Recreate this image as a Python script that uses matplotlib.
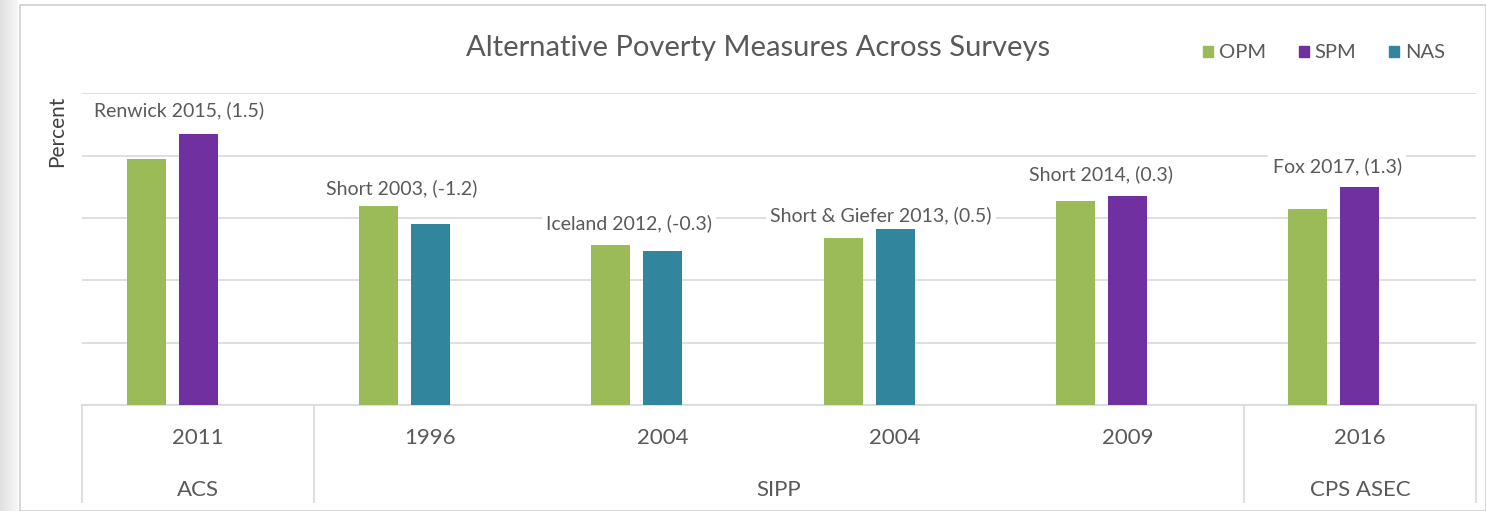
import numpy as np
import matplotlib
matplotlib.use("Agg")
import matplotlib.pyplot as plt
from matplotlib.patches import Rectangle, Patch
import matplotlib.transforms as mtransforms

plt.rcParams['font.family'] = ['Lato', 'DejaVu Sans']

# data
years = ['2011', '1996', '2004', '2004', '2009', '2016']
surveys = ['ACS', 'SIPP', 'CPS ASEC']
survey_span = [(0, 0), (1, 4), (5, 5)]
opm = [15.8, 12.8, 10.3, 10.7, 13.1, 12.6]
alt = [17.4, 11.6, 9.9, 11.3, 13.4, 14.0]
alt_type = ['SPM', 'NAS', 'NAS', 'NAS', 'SPM', 'SPM']
notes = ['Renwick 2015, (1.5)', 'Short 2003, (-1.2)', 'Iceland 2012, (-0.3)',
         'Short & Giefer 2013, (0.5)', 'Short 2014, (0.3)', 'Fox 2017, (1.3)']
note_x = [-0.084, 0.877, 1.854, 2.94, 3.886, 4.902]
note_y = [18.9, 13.9, 11.7, 12.2, 14.8, 15.3]

colors = {'OPM': '#9BBB59', 'SPM': '#7030A0', 'NAS': '#31859C'}
txt = '#595959'
W, H = 1486, 511

fig = plt.figure(figsize=(W / 100, H / 100), dpi=100)

# grey strip on the left + chart border
sax = fig.add_axes([0, 0, 18 / W, 1])
grad = np.linspace(0.88, 0.97, 50).reshape(1, -1)
sax.imshow(np.dstack([grad, grad, grad]), aspect='auto', extent=[0, 1, 0, 1])
sax.axis('off')
fig.patches.append(Rectangle((20 / W, 0), 1 - 20 / W, (H - 5) / H, transform=fig.transFigure,
                             facecolor='white', edgecolor='#D0D0D0', lw=1.2, zorder=-10))

x0, x1, ybase, ytop = 82, 1476, 405, 93.5
ax = fig.add_axes([x0 / W, (H - ybase) / H, (x1 - x0) / W, (ybase - ytop) / H])
ax.set_facecolor('none')

x = np.arange(len(years))
bw, off = 0.168, 0.224
ax.bar(x - off, opm, bw, color=colors['OPM'], zorder=3)
ax.bar(x, alt, bw, color=[colors[t] for t in alt_type], zorder=3)

ax.set_xlim(-0.5, len(years) - 0.5)
ax.set_ylim(0, 20)
ax.set_yticks(np.arange(0, 21, 4))
ax.grid(axis='y', color='#D9D9D9', lw=1.2, zorder=0)
ax.tick_params(left=False, labelleft=False, bottom=False, labelbottom=False)
for s in ['left', 'right', 'top']:
    ax.spines[s].set_visible(False)
ax.spines['bottom'].set_color('#D9D9D9')
ax.spines['bottom'].set_linewidth(1.2)

for xi, yi, t in zip(note_x, note_y, notes):
    ax.text(xi, yi, t, ha='center', va='center', fontsize=14, color=txt, zorder=4,
            bbox=dict(facecolor='white', edgecolor='none', pad=3))

# two-level category axis
tr = mtransforms.blended_transform_factory(ax.transData, ax.transAxes)
ph = ybase - ytop
for xi, y in zip(x, years):
    ax.text(xi, -(438 - ybase) / ph, y, transform=tr, ha='center', va='center',
            fontsize=16, color=txt)
bounds = [-0.5, 0.5, 4.5, 5.5]
ax.vlines(bounds, -(503 - ybase) / ph, 0, transform=tr, colors='#D9D9D9', lw=1.2, clip_on=False)
for (a, b), s in zip(survey_span, surveys):
    ax.text((a + b) / 2, -(490 - ybase) / ph, s, transform=tr, ha='center', va='center',
            fontsize=16, color=txt)

fig.text(758 / W, 1 - 48 / H, 'Alternative Poverty Measures Across Surveys',
         ha='center', va='center', fontsize=21, color=txt)
fig.text(57 / W, 1 - 131 / H, 'Percent', rotation=90, ha='center', va='center',
         fontsize=15, color='#404040')

handles = [Patch(color=colors[k]) for k in ['OPM', 'SPM', 'NAS']]
fig.legend(handles, ['OPM', 'SPM', 'NAS'], loc='center', bbox_to_anchor=(1324 / W, 1 - 53 / H),
           ncol=3, frameon=False, fontsize=14.5, handlelength=0.5, handleheight=0.5,
           handletextpad=0.3, columnspacing=1.6, labelcolor=txt)

fig.savefig('out.png', dpi=100)
